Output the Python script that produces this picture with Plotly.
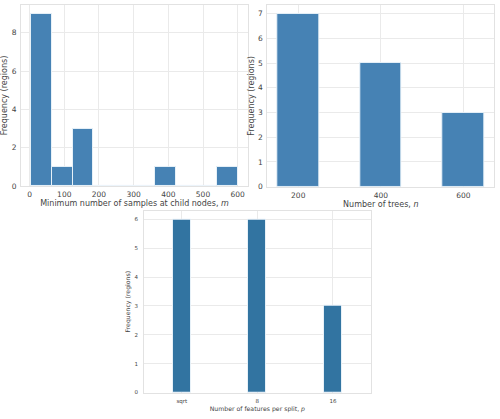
import numpy as np
import plotly.graph_objects as go

# ---- data ----
# Panel 1: histogram of minimum number of samples at child nodes (10 bins between min and max)
m_min, m_max = 5, 600
m_counts = [9, 1, 3, 0, 0, 0, 1, 0, 0, 1]

# Panel 2: number of trees
trees = [200, 400, 600]
trees_counts = [7, 5, 3]

# Panel 3: number of features per split
features = ["sqrt", "8", "16"]
features_counts = [6, 6, 3]

# ---- styling ----
FONT = "DejaVu Sans"
BAR1 = "#4682B4"
BAR3 = "#3274A1"
EDGE = "rgba(235,243,250,0.95)"
GRID = "#EAEAEA"
FRAME = "#E2E2E2"
TXT = "#444444"

nb = len(m_counts)
edges = np.linspace(m_min, m_max, nb + 1)
centers = (edges[:-1] + edges[1:]) / 2
bw = edges[1] - edges[0]

fig = go.Figure()
fig.add_trace(go.Bar(x=centers, y=m_counts, width=bw, marker=dict(color=BAR1, line=dict(color=EDGE, width=1)),
                     xaxis="x", yaxis="y", showlegend=False))
fig.add_trace(go.Bar(x=trees, y=trees_counts, width=100, marker=dict(color=BAR1, line=dict(color=EDGE, width=1)),
                     xaxis="x2", yaxis="y2", showlegend=False))
fig.add_trace(go.Bar(x=features, y=features_counts, width=0.24, marker=dict(color=BAR3, line=dict(color=EDGE, width=1)),
                     xaxis="x3", yaxis="y3", showlegend=False))

def ax(**kw):
    base = dict(showgrid=True, gridcolor=GRID, gridwidth=1, showline=True, mirror=True, linecolor=FRAME,
                linewidth=1, zeroline=False, ticks="", color=TXT)
    base.update(kw)
    return base

span1 = m_max - m_min
fig.update_layout(
    width=500, height=419, margin=dict(l=0, r=0, t=0, b=0),
    paper_bgcolor="white", plot_bgcolor="white",
    font=dict(family=FONT, color=TXT),
    bargap=0,
    xaxis=ax(domain=[0.042, 0.496], anchor="y", range=[m_min - 0.05 * span1, m_max + 0.05 * span1],
             tickvals=[0, 100, 200, 300, 400, 500, 600], tickfont=dict(size=7.5), ticklabelstandoff=1,
             title=dict(text="Minimum number of samples at child nodes, <i>m</i>", font=dict(size=8), standoff=1)),
    yaxis=ax(domain=[0.5506, 0.988], anchor="x", range=[0, 9.45], tickvals=[0, 2, 4, 6, 8], tickfont=dict(size=7.5),
             ticklabelstandoff=2,
             title=dict(text="Frequency (regions)", font=dict(size=8), standoff=2)),
    xaxis2=ax(domain=[0.5346, 0.9886], anchor="y2", range=[125, 675], tickvals=trees, tickfont=dict(size=7.5),
              ticklabelstandoff=1,
              title=dict(text="Number of trees, <i>n</i>", font=dict(size=8), standoff=1)),
    yaxis2=ax(domain=[0.549, 0.988], anchor="x2", range=[0, 7.35], tickvals=list(range(8)), tickfont=dict(size=7.5),
              ticklabelstandoff=2,
              title=dict(text="Frequency (regions)", font=dict(size=8), standoff=2)),
    xaxis3=ax(domain=[0.288, 0.7414], anchor="y3", range=[-0.5, 2.5], type="category", tickfont=dict(size=5.5),
              ticklabelstandoff=3,
              title=dict(text="Number of features per split, <i>p</i>", font=dict(size=6.2), standoff=2)),
    yaxis3=ax(domain=[0.0518, 0.491], anchor="x3", range=[0, 6.3], tickvals=list(range(7)), tickfont=dict(size=5.5),
              ticklabelstandoff=4,
              title=dict(text="Frequency (regions)", font=dict(size=6.2), standoff=3)),
)

fig.write_html("out.html")
